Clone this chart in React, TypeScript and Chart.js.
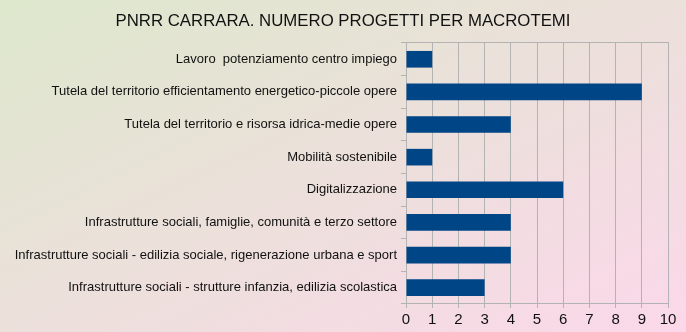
import React, { useEffect, useRef } from "react";
import { Chart, registerables } from "chart.js";

Chart.register(...registerables);

const TITLE = "PNRR CARRARA. NUMERO PROGETTI PER MACROTEMI";
const categories = [
  "Lavoro  potenziamento centro impiego",
  "Tutela del territorio efficientamento energetico-piccole opere",
  "Tutela del territorio e risorsa idrica-medie opere",
  "Mobilità sostenibile",
  "Digitalizzazione",
  "Infrastrutture sociali, famiglie, comunità e terzo settore",
  "Infrastrutture sociali - edilizia sociale, rigenerazione urbana e sport",
  "Infrastrutture sociali - strutture infanzia, edilizia scolastica",
];
const projects = [1, 9, 4, 1, 6, 4, 4, 3];
const xMin = 0;
const xMax = 10;
const xStep = 1;

const FONT = "'Liberation Sans', Arial, sans-serif";
const GRID = "#b3b3b3";
const TEXT = "#111111";

export default function App() {
  const ref = useRef<HTMLCanvasElement | null>(null);

  useEffect(() => {
    if (!ref.current) return;
    const chart = new Chart(ref.current, {
      type: "bar",
      data: {
        labels: categories,
        datasets: [
          {
            data: projects,
            backgroundColor: "#004586",
            borderWidth: 0,
            barPercentage: 0.51,
            categoryPercentage: 1,
          },
        ],
      },
      options: {
        indexAxis: "y",
        responsive: false,
        animation: false,
        devicePixelRatio: 1,
        layout: { padding: 0 },
        plugins: {
          legend: { display: false },
          tooltip: { enabled: false },
          title: {
            display: true,
            text: TITLE,
            color: TEXT,
            font: { family: FONT, size: 16.8, weight: "normal", lineHeight: 1.2 },
            padding: { top: 11, bottom: 11.8 },
          },
        },
        scales: {
          x: {
            type: "linear",
            position: "bottom",
            min: xMin,
            max: xMax,
            ticks: {
              stepSize: xStep,
              color: TEXT,
              padding: 3,
              font: { family: FONT, size: 15 },
            },
            grid: { color: GRID, lineWidth: 1, tickLength: 4, drawTicks: true },
            border: { color: GRID, width: 1 },
            afterFit: (s: any) => {
              s.height = 28;
            },
          },
          x2: {
            type: "linear",
            axis: "x",
            position: "top",
            min: xMin,
            max: xMax,
            ticks: { display: false },
            grid: { display: false, drawTicks: false },
            border: { display: true, color: GRID, width: 1 },
            afterFit: (s: any) => {
              s.height = 0;
            },
          },
          y: {
            type: "category",
            ticks: {
              color: TEXT,
              padding: 4,
              font: { family: FONT, size: 13 },
              autoSkip: false,
            },
            grid: {
              drawOnChartArea: false,
              drawTicks: true,
              tickLength: 5,
              color: GRID,
              offset: true,
            },
            border: { color: GRID, width: 1 },
            afterFit: (s: any) => {
              s.width = 406;
            },
          },
          y2: {
            type: "linear",
            axis: "y",
            position: "right",
            ticks: { display: false },
            grid: { display: false, drawTicks: false },
            border: { display: false },
            afterFit: (s: any) => {
              s.width = 18;
            },
          },
        },
      } as any,
    });
    return () => chart.destroy();
  }, []);

  return (
    <div
      style={{
        position: "fixed",
        left: 0,
        top: 0,
        width: 686,
        height: 332,
        background: "linear-gradient(to bottom right, #dde8cc, #fbd8ea)",
      }}
    >
      <canvas ref={ref} width={686} height={332} style={{ display: "block" }} />
    </div>
  );
}
